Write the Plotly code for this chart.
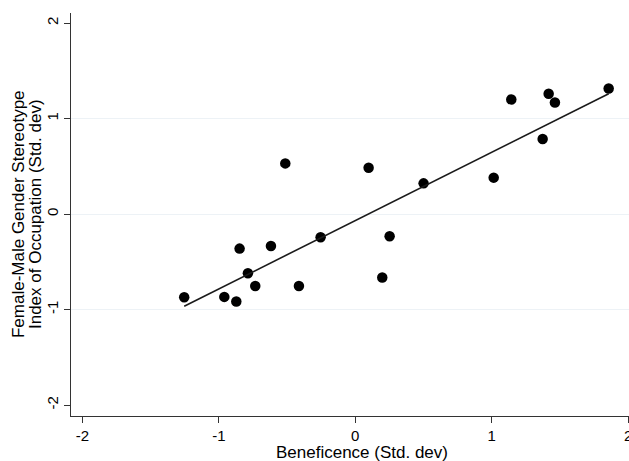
import plotly.graph_objects as go

# Data
beneficence = [-1.254, -0.960, -0.872, -0.848, -0.787, -0.733, -0.618, -0.513, -0.413,
               -0.254, 0.098, 0.198, 0.252, 0.501, 1.015, 1.144, 1.374, 1.418, 1.464, 1.858]
stereotype = [-0.871, -0.868, -0.916, -0.362, -0.620, -0.753, -0.335, 0.530, -0.753,
              -0.244, 0.485, -0.665, -0.233, 0.321, 0.381, 1.200, 0.785, 1.259, 1.168, 1.315]

# Linear fit line as shown in the picture (intercept, slope)
fit_intercept = -0.069
fit_slope = 0.715

x_ticks = [-2, -1, 0, 1, 2]
y_ticks = [-2, -1, 0, 1, 2]
y_grid = [-1, 0, 1]

x_title = "Beneficence (Std. dev)"
y_title_lines = ["Female-Male Gender Stereotype", "Index of Occupation (Std. dev)"]

fit_x = [min(beneficence), max(beneficence)]
fit_y = [fit_intercept + fit_slope * v for v in fit_x]

FONT = "Liberation Sans, Arial, sans-serif"

fig = go.Figure()
fig.add_trace(go.Scatter(
    x=beneficence, y=stereotype, mode="markers",
    marker=dict(size=10.5, color="#000000", line=dict(width=0)),
    showlegend=False, hoverinfo="skip"))
fig.add_trace(go.Scatter(
    x=fit_x, y=fit_y, mode="lines",
    line=dict(color="#1a1a1a", width=1.6),
    showlegend=False, hoverinfo="skip"))

yrange = [-2.115, 2.105]

fig.update_layout(
    width=629, height=461,
    margin=dict(l=71, r=0, t=13, b=45, autoexpand=False),
    paper_bgcolor="white", plot_bgcolor="white",
    font=dict(family=FONT, size=15, color="#000000"),
    xaxis=dict(
        range=[-2.084, 2.007], tickvals=x_ticks, ticktext=[str(v) for v in x_ticks],
        showgrid=False, zeroline=False, showline=True, linecolor="#333333", linewidth=1.2,
        ticks="outside", ticklen=6, tickwidth=1.2, tickcolor="#333333",
        tickfont=dict(size=15, color="#000000"), ticklabeloverflow="allow",
        automargin=False, fixedrange=True),
    yaxis=dict(
        range=yrange, tickvals=y_grid, showticklabels=False, ticks="",
        showgrid=True, gridcolor="#edf2f6", gridwidth=1,
        zeroline=False, showline=False, automargin=False, fixedrange=True),
    yaxis2=dict(
        range=yrange, overlaying="y", anchor="x", side="left",
        tickvals=y_ticks, ticktext=[str(v) for v in y_ticks],
        showgrid=False, zeroline=False, showline=True, linecolor="#333333", linewidth=1.2,
        ticks="outside", ticklen=6, tickwidth=1.2, tickcolor="#333333",
        tickangle=-90, tickfont=dict(size=15, color="#000000"),
        ticklabelstandoff=0, automargin=False, fixedrange=True),
)

# invisible trace to activate yaxis2
fig.add_trace(go.Scatter(x=[0], y=[0], yaxis="y2", mode="markers",
                         marker=dict(opacity=0), showlegend=False, hoverinfo="skip"))

fig.add_annotation(text=x_title, xref="x", yref="paper", x=0, y=0,
                   xanchor="center", yanchor="middle", xshift=7, yshift=-36,
                   showarrow=False, font=dict(family=FONT, size=17, color="#000000"))
for i, line in enumerate(y_title_lines):
    fig.add_annotation(text=line, xref="paper", yref="y", x=0, y=0,
                       xanchor="center", yanchor="middle", xshift=[-53, -36][i],
                       textangle=-90, showarrow=False,
                       font=dict(family=FONT, size=17, color="#000000"))

fig.write_html("out.html")
